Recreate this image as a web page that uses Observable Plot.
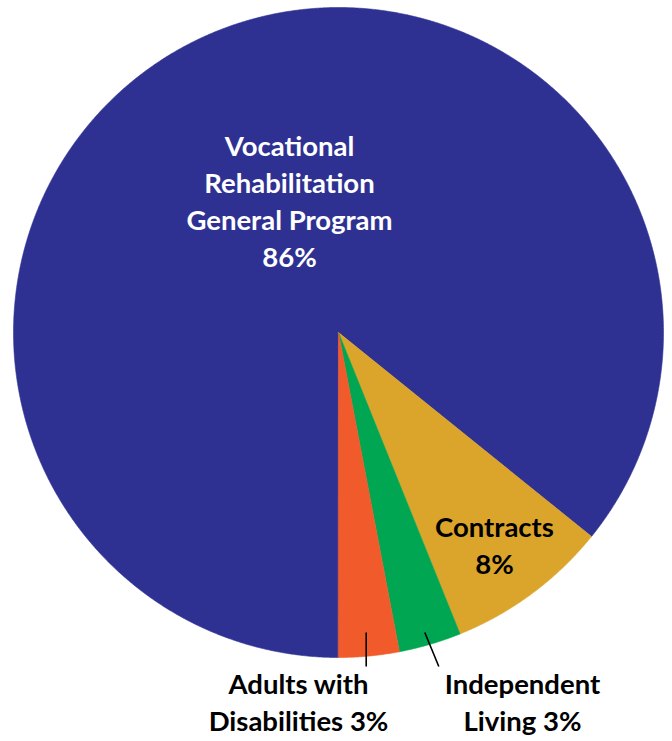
<!DOCTYPE html>
<html>
<head>
<meta charset="utf-8">
<script src="https://cdn.jsdelivr.net/npm/d3@7"></script>
<script src="https://cdn.jsdelivr.net/npm/@observablehq/plot@0.6"></script>
<style>
  html, body { margin: 0; padding: 0; background: #fff; }
  #chart svg { display: block; }
</style>
</head>
<body>
<div id="chart"></div>
<script>
// ---- data ----
const categories = [
  "Vocational Rehabilitation General Program",
  "Contracts",
  "Independent Living",
  "Adults with Disabilities"
];
const shares = [85.8, 8.1, 3.1, 3.0];
const labelTexts = [
  "Vocational\nRehabilitation\nGeneral Program\n86%",
  "Contracts\n8%",
  "Independent\nLiving 3%",
  "Adults with\nDisabilities 3%"
];
const colors = ["#2E3192", "#DBA52B", "#00A651", "#F15A2B"];

// ---- layout (pixels) ----
const W = 672, H = 741;
const cx = 338, cy = 332, R = 325;
const toX = px => (px - cx) / R;
const toY = py => (cy - py) / R;

// pie geometry via d3.pie (clockwise from 6 o'clock)
const arcs = d3.pie().sort(null).startAngle(Math.PI).endAngle(3 * Math.PI)(shares);
const pts = [];
arcs.forEach((a, i) => {
  pts.push({cat: categories[i], x: 0, y: 0});
  const n = Math.max(8, Math.ceil((a.endAngle - a.startAngle) / (Math.PI / 720)));
  for (let k = 0; k <= n; k++) {
    const t = a.startAngle + (a.endAngle - a.startAngle) * k / n;
    pts.push({cat: categories[i], x: Math.sin(t), y: Math.cos(t)});
  }
});

// label anchors (pixels) and styles
const labelPos = [
  {px: 289, py: 199.5, fill: "#ffffff"},
  {px: 494, py: 543.5, fill: "#000000"},
  {px: 522, py: 700.5, fill: "#000000"},
  {px: 298, py: 700.5, fill: "#000000"}
];
const labels = labelTexts.map((t, i) => ({
  text: t, x: toX(labelPos[i].px), y: toY(labelPos[i].py), fill: labelPos[i].fill
}));

// leader lines (pixels)
const leaders = [
  {x1: toX(365.7), y1: toY(632), x2: toX(365.7), y2: toY(666)},
  {x1: toX(424.3), y1: toY(632), x2: toX(438.3), y2: toY(666)}
];

const chart = Plot.plot({
  width: W,
  height: H,
  marginLeft: cx - R,
  marginRight: W - (cx + R),
  marginTop: cy - R,
  marginBottom: H - (cy + R),
  x: {domain: [-1, 1], axis: null},
  y: {domain: [-1, 1], axis: null},
  color: {domain: categories, range: colors},
  style: {fontFamily: "Lato, 'Open Sans', sans-serif", background: "#fff", overflow: "visible"},
  marks: [
    Plot.line(pts, {x: "x", y: "y", z: "cat", fill: "cat", stroke: "cat", strokeWidth: 0.6, curve: "linear-closed"}),
    Plot.link(leaders, {x1: "x1", y1: "y1", x2: "x2", y2: "y2", stroke: "#000", strokeWidth: 1.6}),
    Plot.text(labels, {
      x: "x", y: "y", text: "text", fill: d => d.fill,
      fontSize: 27.5, fontWeight: "bold", lineHeight: 1.345, textAnchor: "middle", lineAnchor: "middle"
    })
  ]
});
document.getElementById("chart").appendChild(chart);
</script>
</body>
</html>
